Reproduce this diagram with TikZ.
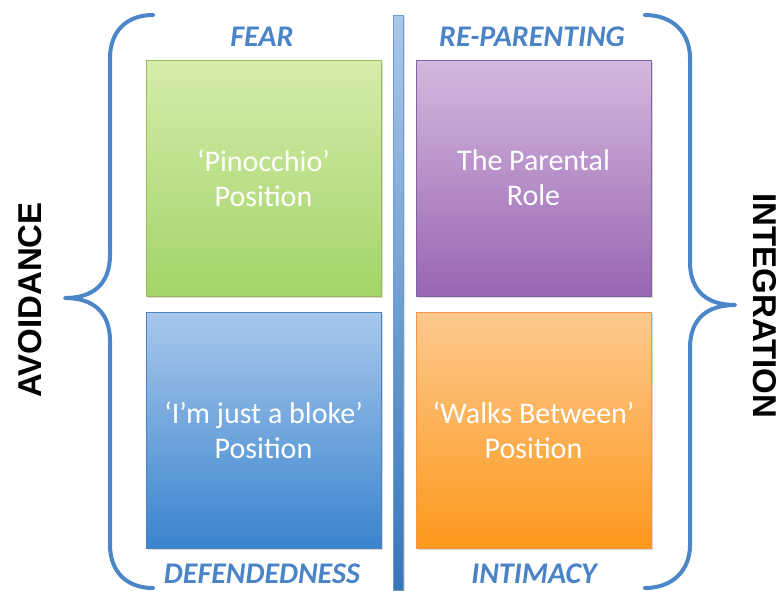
\documentclass[tikz,border=0pt]{standalone}
\usepackage{fontspec}
\setmainfont{Carlito}
\newfontfamily\sidefont{Liberation Sans}
\usetikzlibrary{shadows}
\definecolor{bracecol}{HTML}{4A86C8}
\definecolor{labelcol}{HTML}{4A84C6}
\definecolor{gtop}{HTML}{D5ECAB}
\definecolor{gbot}{HTML}{A3D468}
\definecolor{gline}{HTML}{9BBB59}
\definecolor{ptop}{HTML}{D4B8DE}
\definecolor{pbot}{HTML}{9966B2}
\definecolor{pline}{HTML}{8064A2}
\definecolor{btop}{HTML}{A8C8EC}
\definecolor{bbot}{HTML}{3A84CE}
\definecolor{bline}{HTML}{4F81BD}
\definecolor{otop}{HTML}{FDC98E}
\definecolor{obot}{HTML}{FD981C}
\definecolor{oline}{HTML}{F79646}
\begin{document}
\begin{tikzpicture}[x=1pt,y=-1pt,
  quad/.style={draw, line width=1pt, minimum width=235pt, minimum height=236pt,
    inner sep=0pt, align=center, text=white,
    font=\fontsize{30}{35}\selectfont,
    drop shadow={shadow xshift=2pt, shadow yshift=-2pt, opacity=0.3}},
  axislabel/.style={text=labelcol, font=\fontsize{30}{32}\selectfont\bfseries\itshape},
  sidelabel/.style={font=\sidefont\fontsize{33}{36}\selectfont\bfseries},
  brace/.style={draw=bracecol, line width=4pt, line cap=round, line join=round}]
\useasboundingbox (0,0) rectangle (779,590);
% centre bar
\node[draw=bline!80, line width=0.8pt, top color=btop, bottom color=bbot!90!black,
  minimum width=10pt, minimum height=575pt, inner sep=0pt,
  drop shadow={shadow xshift=2pt, shadow yshift=-2pt, opacity=0.25}] (bar) at (398,302.5) {};
% quadrants
\node[quad, draw=gline, top color=gtop, bottom color=gbot] (fear) at (263.5,178) {‘Pinocchio’\\Position};
\node[quad, draw=pline, top color=ptop, bottom color=pbot] (parent) at (533.5,178) {The Parental\\Role};
\node[quad, draw=bline, top color=btop, bottom color=bbot] (bloke) at (263.5,430) {‘I’m just a bloke’\\Position};
\node[quad, draw=oline, top color=otop, bottom color=obot] (walks) at (533.5,430) {‘Walks Between’\\Position};
% axis labels
\node[axislabel] (lfear) at (262,37) {FEAR};
\node[axislabel] (lrep) at (532,37) {RE-PARENTING};
\node[axislabel] (ldef) at (262,574) {DEFENDEDNESS};
\node[axislabel] (lint) at (534,574) {INTIMACY};
% side labels
\node[sidelabel, rotate=90] (avoid) at (30,300) {AVOIDANCE};
\node[sidelabel, rotate=-90] (integ) at (765,306) {INTEGRATION};
% braces
\coordinate (lt) at (153,15);
\coordinate (lb) at (153,588);
\coordinate (ltip) at (65,298);
\coordinate (rt) at (645,15);
\coordinate (rb) at (645,588);
\coordinate (rtip) at (735,305);
\draw[brace] (lt) .. controls (126,15) and (110,32) .. (110,58) -- (110,255)
  .. controls (110,285) and (92,298) .. (ltip)
  .. controls (92,298) and (110,311) .. (110,341) -- (110,545)
  .. controls (110,571) and (126,588) .. (lb);
\draw[brace] (rt) .. controls (672,15) and (690,32) .. (690,58) -- (690,262)
  .. controls (690,292) and (708,305) .. (rtip)
  .. controls (708,305) and (690,318) .. (690,348) -- (690,545)
  .. controls (690,571) and (672,588) .. (rb);
\end{tikzpicture}
\end{document}
